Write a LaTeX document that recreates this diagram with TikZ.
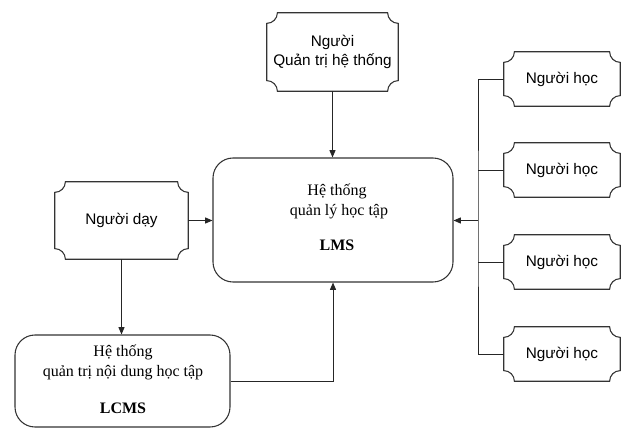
\documentclass[tikz,border=0pt]{standalone}
\usepackage{fontspec}
\setmainfont{Liberation Serif}
\newfontfamily\arialf{Liberation Sans}
\usetikzlibrary{arrows.meta}
\newcommand\plaquebox[1]{%
  \draw[boxline] ([xshift=8pt]#1.north west) -- ([xshift=-8pt]#1.north east)
    arc[start angle=180,end angle=270,radius=8pt]
    -- ([yshift=8pt]#1.south east)
    arc[start angle=90,end angle=180,radius=8pt]
    -- ([xshift=8pt]#1.south west)
    arc[start angle=0,end angle=90,radius=8pt]
    -- ([yshift=-8pt]#1.north west)
    arc[start angle=270,end angle=360,radius=8pt] -- cycle;}
\begin{document}
\begin{tikzpicture}[x=0.75pt,y=-0.75pt,
  boxline/.style={draw=black!80,line width=0.8pt},
  pbox/.style={inner sep=0pt,align=center,font=\arialf\fontsize{11.5}{14}\selectfont},
  rbox/.style={boxline,rounded corners=15pt,inner sep=0pt},
  stxt/.style={align=center,font=\fontsize{12}{15}\selectfont},
  conn/.style={draw=black!85,line width=0.7pt},
  arr/.style={conn,-{Triangle[length=5.5pt,width=4.5pt]}}]
\useasboundingbox (0,0) rectangle (643,438);
% boxes
\node[pbox,minimum width=98.25pt,minimum height=58.5pt] (admin) at (332.5,52) {Người\\Quản trị hệ thống};
\node[rbox,minimum width=180pt,minimum height=93pt] (lms) at (333,220) {};
\node[stxt] (lmst) at (337,217) {Hệ thống\\\ quản lý học tập\\[11pt]\textbf{LMS}};
\node[pbox,minimum width=99.75pt,minimum height=57.75pt] (day) at (121.5,220.5) {Người dạy};
\node[rbox,minimum width=161.25pt,minimum height=69pt] (lcms) at (122.5,381) {};
\node[stxt] (lcmst) at (123,379) {Hệ thống\\quản trị nội dung học tập\\[13pt]\textbf{LCMS}};
\node[pbox,minimum width=87pt,minimum height=40.5pt] (h1) at (562,79) {Người học};
\node[pbox,minimum width=87pt,minimum height=40.5pt] (h2) at (562,170) {Người học};
\node[pbox,minimum width=87pt,minimum height=40.5pt] (h3) at (562,262) {Người học};
\node[pbox,minimum width=87pt,minimum height=40.5pt] (h4) at (562,354) {Người học};
\plaquebox{admin}
\plaquebox{day}
\plaquebox{h1}
\plaquebox{h2}
\plaquebox{h3}
\plaquebox{h4}
% connectors
\draw[arr] (admin.south) -- (admin.south |- lms.north);
\draw[arr] (day.east) -- (day.east -| lms.west);
\draw[arr] (day.south) -- (day.south |- lcms.north);
\draw[arr] (lcms.east) -| (lms.south);
\coordinate (jt) at (478,220.5);
\draw[conn] (h1.west) -| (jt) |- (h4.west);
\draw[conn] (h2.west) -- (h2.west -| jt);
\draw[conn] (h3.west) -- (h3.west -| jt);
\draw[arr] (jt) -- (jt -| lms.east);
\end{tikzpicture}
\end{document}
